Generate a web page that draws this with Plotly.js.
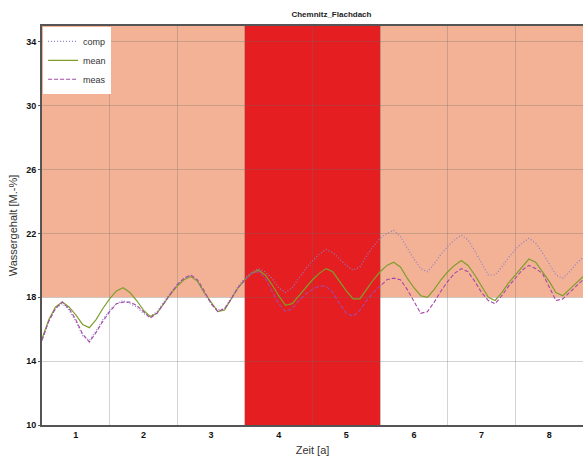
<!DOCTYPE html>
<html>
<head>
<meta charset="utf-8">
<script src="https://cdn.plot.ly/plotly-3.0.1.min.js"></script>
<style>html,body{margin:0;padding:0;background:#fff;}#chart{width:583px;height:463px;}</style>
</head>
<body>
<div id="chart"></div>
<script>
// time axis (years), step 0.1 from 0.5 to 8.5
const years = [];
for (let i = 0; i <= 80; i++) years.push(+(0.5 + i * 0.1).toFixed(1));

const comp = [15.3,16.5,17.3,17.6,17.2,16.5,15.6,15.3,15.9,16.6,
  17.2,17.6,17.8,17.6,17.4,17.0,16.8,17.1,17.7,18.3,
  18.8,19.2,19.4,19.0,18.2,17.6,17.2,17.3,18.0,18.7,
  19.2,19.6,19.8,19.6,19.2,18.6,18.3,18.6,19.2,19.8,
  20.3,20.7,21.0,20.8,20.4,20.0,19.7,19.9,20.6,21.2,
  21.7,22.0,22.2,21.8,21.1,20.4,19.8,19.6,20.1,20.7,
  21.2,21.6,21.9,21.6,20.9,20.1,19.4,19.4,19.9,20.5,
  21.0,21.4,21.7,21.4,20.8,20.1,19.4,19.2,19.6,20.1,20.5];

const mean = [15.4,16.6,17.4,17.7,17.4,16.9,16.3,16.1,16.6,17.3,
  17.9,18.4,18.6,18.3,17.8,17.2,16.8,17.0,17.6,18.2,
  18.7,19.1,19.3,19.0,18.3,17.7,17.1,17.2,17.9,18.6,
  19.1,19.5,19.7,19.4,18.8,18.1,17.5,17.6,18.1,18.6,
  19.1,19.5,19.8,19.6,19.0,18.4,17.9,17.9,18.5,19.1,
  19.6,20.0,20.2,19.9,19.2,18.6,18.1,18.0,18.5,19.1,
  19.6,20.0,20.3,20.0,19.4,18.7,18.0,17.8,18.3,18.9,
  19.4,19.9,20.4,20.2,19.6,19.0,18.3,18.1,18.5,18.9,19.3];

const meas = [15.3,16.5,17.3,17.7,17.3,16.6,15.7,15.2,15.8,16.5,
  17.1,17.6,17.7,17.7,17.5,17.1,16.7,17.0,17.6,18.2,
  18.8,19.2,19.4,19.1,18.4,17.6,17.1,17.3,17.9,18.6,
  19.1,19.5,19.6,19.2,18.4,17.6,17.1,17.3,17.8,18.2,
  18.5,18.7,18.7,18.3,17.6,17.0,16.8,17.2,17.8,18.3,
  18.7,19.1,19.2,19.1,18.5,17.7,17.0,17.1,17.7,18.4,
  19.0,19.5,19.8,19.6,19.0,18.3,17.8,17.6,18.1,18.7,
  19.2,19.7,20.0,19.8,19.5,18.7,17.8,17.9,18.3,18.7,19.1];

const xTicks = [1,2,3,4,5,6,7,8];
const yTicks = [10,14,18,22,26,30,34];
const zoneLow = 18;      // lower bound of the salmon zone
const redBand = [3.5, 5.5];

const traces = [
  {x: years, y: comp, name: 'comp', mode: 'lines',
   line: {color: '#8b7fc6', width: 1.2, dash: '1px,2px'}},
  {x: years, y: mean, name: 'mean', mode: 'lines',
   line: {color: '#7f9e2c', width: 1.2}},
  {x: years, y: meas, name: 'meas', mode: 'lines',
   line: {color: '#a548a8', width: 1.1, dash: '4px,2px'}}
];

const layout = {
  width: 583, height: 463,
  margin: {l: 42, r: 0, t: 26, b: 38},
  paper_bgcolor: '#ffffff', plot_bgcolor: '#ffffff',
  font: {family: 'Liberation Sans, Arial, sans-serif', color: '#111'},
  title: {text: '<b>Chemnitz_Flachdach</b>', font: {size: 8, color: '#222'},
          x: 0.535, xref: 'paper', y: 0.975, yref: 'container', xanchor: 'center'},
  showlegend: true,
  legend: {x: 0.002, y: 0.998, xanchor: 'left', yanchor: 'top',
           bgcolor: '#ffffff', borderwidth: 0, font: {size: 9, color: '#333'},
           itemwidth: 30, tracegroupgap: 0},
  xaxis: {
    range: [0.5, 8.5], tickmode: 'array', tickvals: xTicks,
    ticktext: xTicks.map(v => '<b>' + v + '</b>'),
    showgrid: false, zeroline: false,
    showline: true, linecolor: '#555', linewidth: 2, mirror: true,
    ticks: '', tickfont: {size: 9, color: '#111'},
    minor: {tick0: 0.5, dtick: 1, showgrid: true, gridcolor: 'rgba(110,110,110,0.3)', gridwidth: 1, ticks: ''},
    title: {text: 'Zeit [a]', font: {size: 11, color: '#333'}, standoff: 8}
  },
  yaxis: {
    range: [10, 35], tickmode: 'array', tickvals: yTicks,
    ticktext: yTicks.map(v => '<b>' + v + '</b>'),
    showgrid: true, gridcolor: 'rgba(110,110,110,0.3)', gridwidth: 1, zeroline: false,
    showline: true, linecolor: '#555', linewidth: 2,
    ticks: 'outside', ticklen: 2, tickcolor: '#555', tickfont: {size: 9, color: '#111'},
    title: {text: 'Wassergehalt [M.-%]', font: {size: 11, color: '#333'}, standoff: 6}
  },
  shapes: [
    {type: 'rect', xref: 'paper', x0: 0, x1: 1, yref: 'y', y0: zoneLow, y1: 35,
     fillcolor: 'rgb(243,178,150)', line: {width: 0}, layer: 'below'},
    {type: 'rect', xref: 'x', x0: redBand[0], x1: redBand[1], yref: 'paper', y0: 0, y1: 1,
     fillcolor: 'rgb(229,30,34)', line: {width: 0}, layer: 'below'}
  ]
};

Plotly.newPlot('chart', traces, layout, {displayModeBar: false, staticPlot: true});
</script>
</body>
</html>
